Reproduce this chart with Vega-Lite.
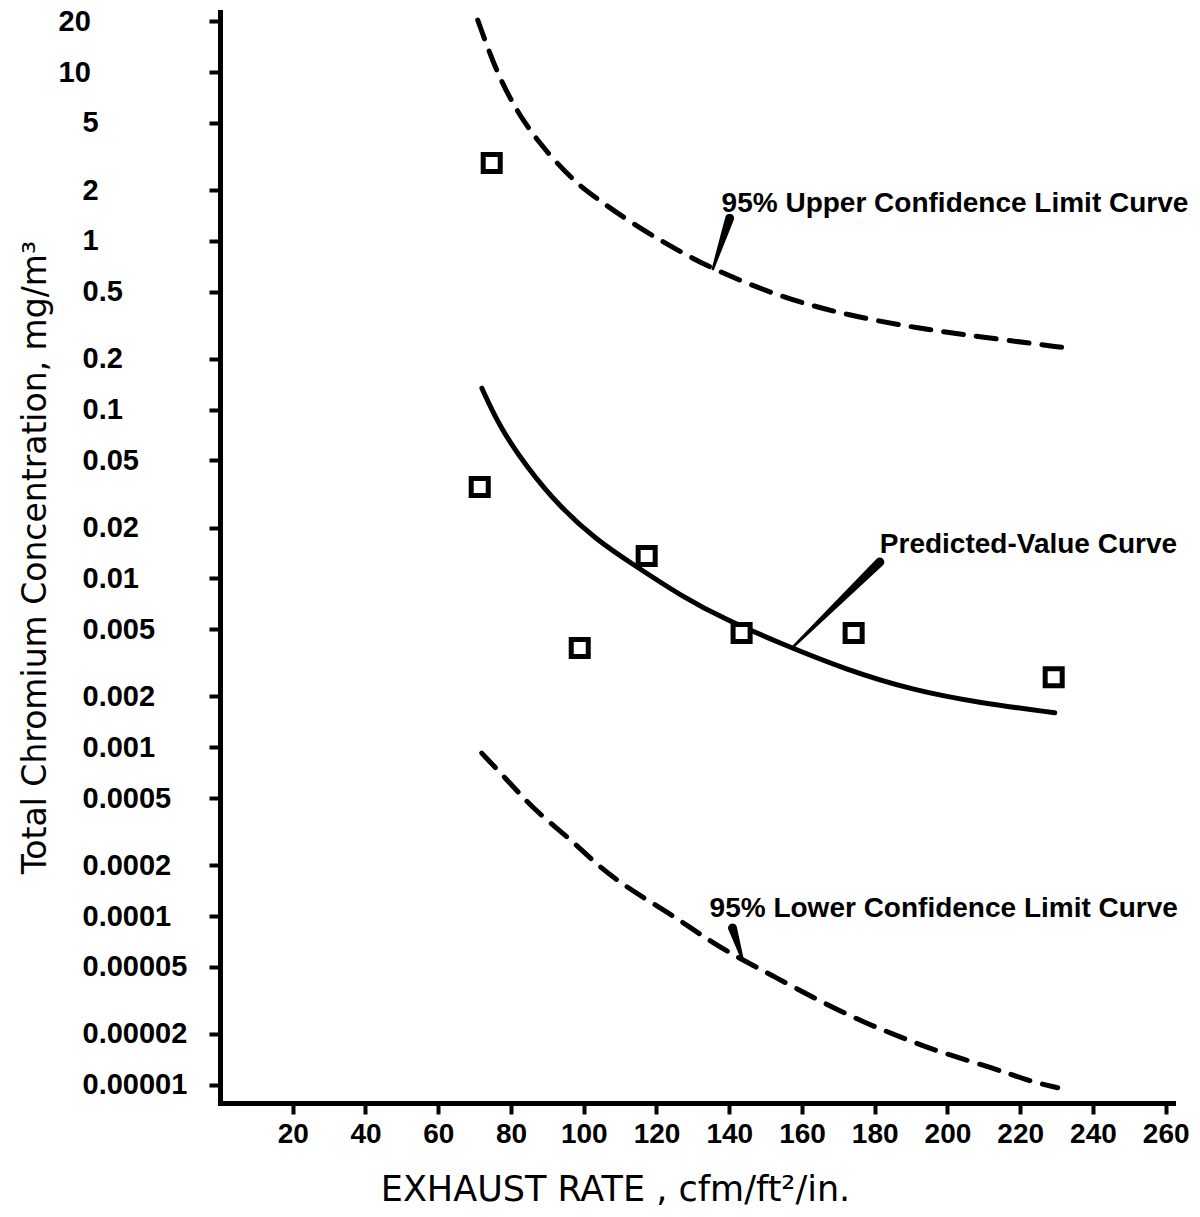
{
  "$schema": "https://vega.github.io/schema/vega-lite/v6.json",
  "autosize": "none",
  "width": 953,
  "height": 1091,
  "padding": {"left": 220, "top": 12, "right": 27, "bottom": 114},
  "background": "white",
  "config": {"view": {"stroke": null}},
  "datasets": {
    "upper": [
      {"x": 70.86, "y": 20.3}, {"x": 75.53, "y": 10.7}, {"x": 79.66, "y": 7.01}, {"x": 83.78, "y": 4.99},
      {"x": 87.9, "y": 3.8}, {"x": 92.58, "y": 2.89}, {"x": 98.08, "y": 2.2}, {"x": 102.2, "y": 1.87},
      {"x": 114.6, "y": 1.21}, {"x": 127.2, "y": 0.847}, {"x": 135.5, "y": 0.681}, {"x": 153.9, "y": 0.465},
      {"x": 172.3, "y": 0.363}, {"x": 191.6, "y": 0.304}, {"x": 209.7, "y": 0.269}, {"x": 232.8, "y": 0.232}
    ],
    "predicted": [
      {"x": 72.0, "y": 0.134}, {"x": 76.9, "y": 0.0789}, {"x": 84.3, "y": 0.0457}, {"x": 93.4, "y": 0.0265},
      {"x": 103.6, "y": 0.0169}, {"x": 112.6, "y": 0.0125}, {"x": 127.2, "y": 0.00776}, {"x": 139.3, "y": 0.00567},
      {"x": 153.9, "y": 0.00414}, {"x": 172.3, "y": 0.00287}, {"x": 190.4, "y": 0.00218}, {"x": 208.9, "y": 0.00183},
      {"x": 229.5, "y": 0.0016}
    ],
    "lower": [
      {"x": 71.96, "y": 0.000923}, {"x": 80.21, "y": 0.000597}, {"x": 85.98, "y": 0.000436}, {"x": 92.58, "y": 0.000332},
      {"x": 98.9, "y": 0.000253}, {"x": 104.4, "y": 0.000195}, {"x": 109.9, "y": 0.000159}, {"x": 116.2, "y": 0.000129},
      {"x": 122.8, "y": 0.000106}, {"x": 129.1, "y": 0.0000861}, {"x": 135.5, "y": 0.0000692}, {"x": 143.7, "y": 0.0000548},
      {"x": 152.5, "y": 0.0000436}, {"x": 164.3, "y": 0.0000318}, {"x": 176.7, "y": 0.0000236}, {"x": 187.7, "y": 0.0000189},
      {"x": 198.7, "y": 0.0000154}, {"x": 212.4, "y": 0.0000126}, {"x": 223.2, "y": 0.0000104}, {"x": 230.3, "y": 0.0000096}
    ],
    "observed": [
      {"x": 74.7, "y": 2.89}, {"x": 71.4, "y": 0.0348}, {"x": 117.3, "y": 0.0136}, {"x": 98.9, "y": 0.00387},
      {"x": 143.4, "y": 0.00475}, {"x": 174.2, "y": 0.00475}, {"x": 229.2, "y": 0.0026}
    ],
    "pointers": [
      {"id": "upper", "end": "tip", "x": 135.5, "y": 0.681},
      {"id": "upper", "end": "base", "x": 140.1, "y": 1.36},
      {"id": "predicted", "end": "tip", "x": 157.2, "y": 0.00387},
      {"id": "predicted", "end": "base", "x": 181.4, "y": 0.0125},
      {"id": "lower", "end": "base", "x": 140.9, "y": 0.0000849},
      {"id": "lower", "end": "tip", "x": 143.7, "y": 0.0000548}
    ],
    "labels": [
      {"text": "95% Upper Confidence Limit Curve", "x": 137.9, "y": 1.48},
      {"text": "Predicted-Value Curve", "x": 181.4, "y": 0.01414},
      {"text": "95% Lower Confidence Limit Curve", "x": 134.6, "y": 0.0000986}
    ]
  },
  "encoding": {
    "x": {
      "field": "x", "type": "quantitative",
      "scale": {"domain": [0, 262], "nice": false, "zero": false},
      "axis": {
        "title": "EXHAUST RATE , cfm/ft²/in.",
        "values": [20, 40, 60, 80, 100, 120, 140, 160, 180, 200, 220, 240, 260],
        "grid": false,
        "domainColor": "black", "domainWidth": 5, "domainCap": "square",
        "tickColor": "black", "tickWidth": 4, "tickSize": 11,
        "labelFont": "Liberation Sans", "labelFontWeight": "bold", "labelFontSize": 28, "labelColor": "black",
        "labelPadding": 6, "labelOverlap": false,
        "titleFont": "DejaVu Sans", "titleFontWeight": "normal", "titleFontSize": 35, "titleColor": "black",
        "titleX": 395, "titleY": 97, "titleBaseline": "alphabetic", "titleAlign": "center"
      }
    },
    "y": {
      "field": "y", "type": "quantitative",
      "scale": {"type": "log", "domain": [0.0000078, 22.7], "nice": false},
      "axis": {
        "title": "Total Chromium Concentration, mg/m³",
        "values": [20, 10, 5, 2, 1, 0.5, 0.2, 0.1, 0.05, 0.02, 0.01, 0.005, 0.002, 0.001, 0.0005, 0.0002, 0.0001, 0.00005, 0.00002, 0.00001],
        "format": ".5~f",
        "grid": false,
        "domainColor": "black", "domainWidth": 5, "domainCap": "square",
        "tickColor": "black", "tickWidth": 4, "tickSize": 11,
        "labelFont": "Liberation Sans", "labelFontWeight": "bold", "labelFontSize": 29, "labelColor": "black",
        "labelAlign": "left", "labelBaseline": "middle",
        "labelPadding": {"condition": {"test": "datum.value >= 10", "value": 151}, "value": 127},
        "labelOverlap": false,
        "titleFont": "DejaVu Sans", "titleFontWeight": "normal", "titleFontSize": 33, "titleColor": "black",
        "titleX": -175, "titleY": 545, "titleBaseline": "alphabetic", "titleAlign": "center", "titleAngle": -90
      }
    }
  },
  "layer": [
    {
      "data": {"name": "upper"},
      "mark": {"type": "line", "interpolate": "basis", "color": "black", "strokeWidth": 5, "strokeDash": [20, 13], "strokeCap": "round"}
    },
    {
      "data": {"name": "lower"},
      "mark": {"type": "line", "interpolate": "basis", "color": "black", "strokeWidth": 5, "strokeDash": [20, 13], "strokeCap": "round"}
    },
    {
      "data": {"name": "predicted"},
      "mark": {"type": "line", "interpolate": "basis", "color": "black", "strokeWidth": 5, "strokeCap": "round"}
    },
    {
      "data": {"name": "pointers"},
      "mark": {"type": "trail", "color": "black"},
      "encoding": {
        "detail": {"field": "id", "type": "nominal"},
        "size": {"field": "end", "type": "nominal", "scale": {"domain": ["tip", "base"], "range": [2.5, 9]}, "legend": null}
      }
    },
    {
      "data": {"name": "observed"},
      "mark": {"type": "point", "shape": "square", "filled": false, "fill": "white", "fillOpacity": 1, "stroke": "black", "strokeWidth": 5, "size": 290, "opacity": 1}
    },
    {
      "data": {"name": "labels"},
      "mark": {"type": "text", "align": "left", "baseline": "alphabetic", "font": "Liberation Sans", "fontWeight": "bold", "fontSize": 28, "color": "black"},
      "encoding": {"text": {"field": "text", "type": "nominal"}}
    }
  ]
}
